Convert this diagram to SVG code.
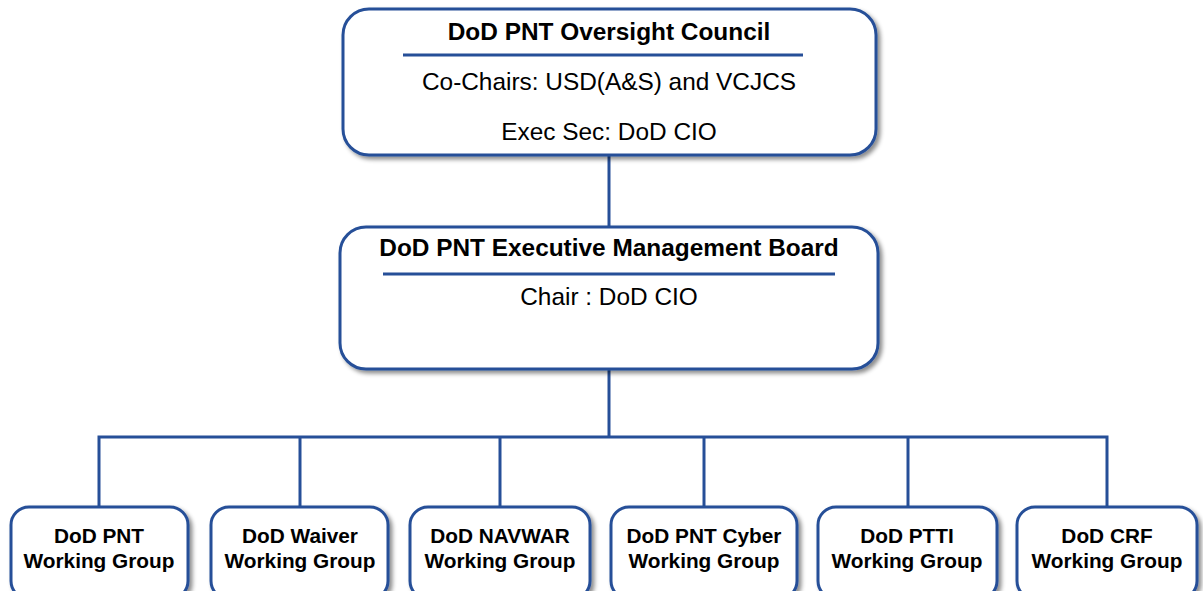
<svg xmlns="http://www.w3.org/2000/svg" width="1203" height="591" viewBox="0 0 1203 591">
<style>
.box{fill:#fff;stroke:#264f98;stroke-width:3;filter:url(#sh)}
.conn{stroke:#264f98;stroke-width:3;fill:none}
.rule{stroke:#264f98;stroke-width:3}
.t{font-family:"Liberation Sans",Arial,sans-serif;fill:#000;text-anchor:middle}
.tb{font-weight:bold;font-size:24.4px}
.tr{font-size:24.4px}
.wb{font-weight:bold;font-size:20.8px}
</style>
<defs>
<filter id="sh" x="-10%" y="-10%" width="125%" height="130%">
<feDropShadow dx="3" dy="3" stdDeviation="2" flood-color="#000" flood-opacity="0.45"/>
</filter>
</defs>
<rect width="1203" height="591" fill="#fff"/>
<g id="connectors">
<line class="conn" x1="609" y1="155" x2="609" y2="227"/>
<line class="conn" x1="609" y1="369" x2="609" y2="437"/>
<polyline class="conn" points="99,507 99,437 1107,437 1107,507"/>
<line class="conn" x1="300" y1="437" x2="300" y2="507"/>
<line class="conn" x1="500" y1="437" x2="500" y2="507"/>
<line class="conn" x1="704" y1="437" x2="704" y2="507"/>
<line class="conn" x1="908" y1="437" x2="908" y2="507"/>
</g>
<g id="oversight">
<rect class="box" x="343" y="9" width="533" height="146" rx="26"/>
<text class="t tb" x="609" y="40">DoD PNT Oversight Council</text>
<line class="rule" x1="403" y1="55" x2="803" y2="55"/>
<text class="t tr" x="609" y="90">Co-Chairs: USD(A&amp;S) and VCJCS</text>
<text class="t tr" x="609" y="140">Exec Sec: DoD CIO</text>
</g>
<g id="emb">
<rect class="box" x="340" y="227" width="538" height="142" rx="26"/>
<text class="t tb" x="609" y="256">DoD PNT Executive Management Board</text>
<line class="rule" x1="383" y1="274" x2="835" y2="274"/>
<text class="t tr" x="609" y="305">Chair : DoD CIO</text>
</g>
<g id="wg-pnt">
<rect class="box" x="11" y="507" width="177" height="92" rx="18"/>
<text class="t wb" x="99" y="543">DoD PNT</text>
<text class="t wb" x="99" y="568">Working Group</text>
</g>
<g id="wg-waiver">
<rect class="box" x="211" y="507" width="177" height="92" rx="18"/>
<text class="t wb" x="300" y="543">DoD Waiver</text>
<text class="t wb" x="300" y="568">Working Group</text>
</g>
<g id="wg-navwar">
<rect class="box" x="410" y="507" width="180" height="92" rx="18"/>
<text class="t wb" x="500" y="543">DoD NAVWAR</text>
<text class="t wb" x="500" y="568">Working Group</text>
</g>
<g id="wg-cyber">
<rect class="box" x="611" y="507" width="186" height="92" rx="18"/>
<text class="t wb" x="704" y="543">DoD PNT Cyber</text>
<text class="t wb" x="704" y="568">Working Group</text>
</g>
<g id="wg-ptti">
<rect class="box" x="818" y="507" width="179" height="92" rx="18"/>
<text class="t wb" x="907" y="543">DoD PTTI</text>
<text class="t wb" x="907" y="568">Working Group</text>
</g>
<g id="wg-crf">
<rect class="box" x="1017" y="507" width="180" height="92" rx="18"/>
<text class="t wb" x="1107" y="543">DoD CRF</text>
<text class="t wb" x="1107" y="568">Working Group</text>
</g>
</svg>
